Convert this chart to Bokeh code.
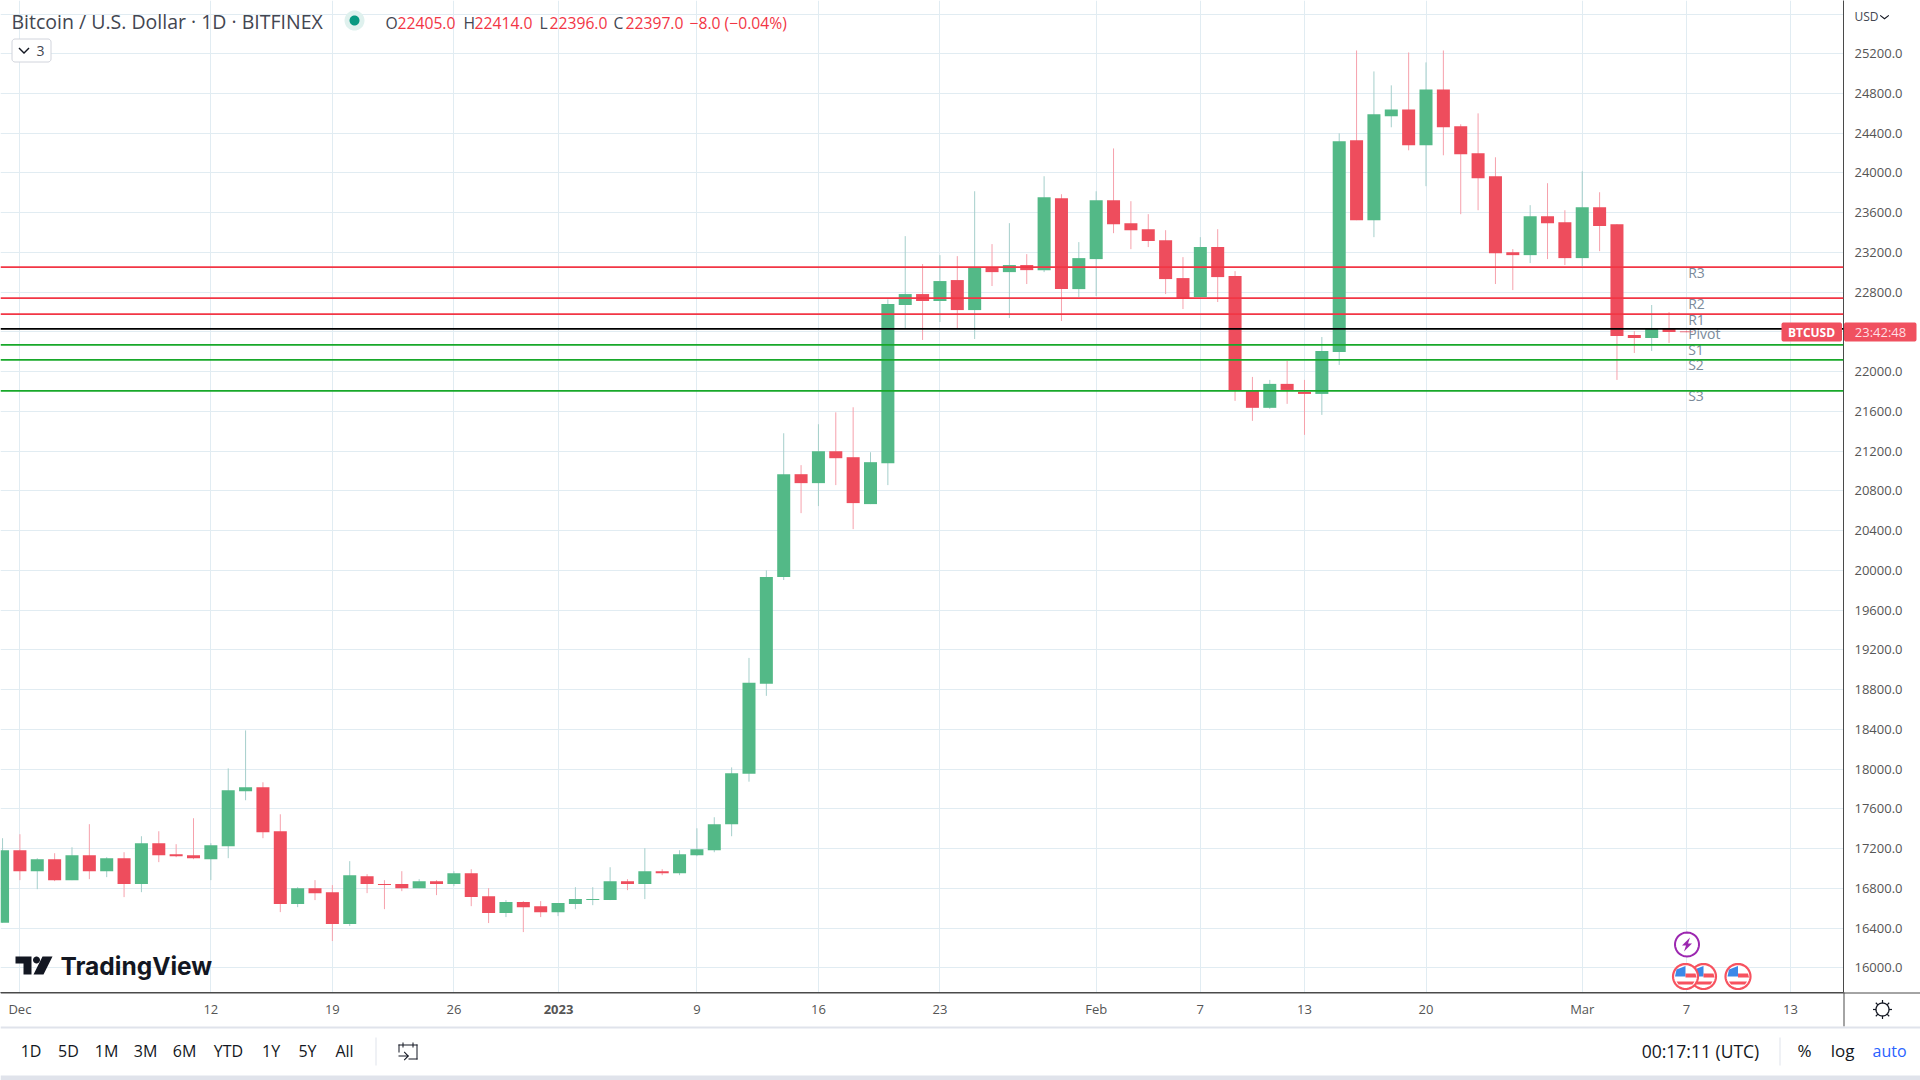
import numpy as np
from bokeh.plotting import figure
from bokeh.embed import file_html
from bokeh.resources import INLINE
from bokeh.layouts import column
from bokeh.models import Range1d, FixedTicker, Span, ColumnDataSource
from bokeh.core.properties import value

# ---------- data ----------
first_day = -1   # day index of first candle, 0 = 1 Dec 2022
opens = [16453,17183,16972,17093,16882,17133,16972,17103,16842,17254,17143,17133,17093,17223,17776,17816,
         17374,16641,16801,16761,16440,16922,16842,16842,16801,16872,16842,16952,16721,16550,16661,16620,
         16560,16641,16681,16681,16872,16842,16972,16952,17133,17183,17445,17953,18858,19933,20968,20878,
         21199,21139,20667,21079,22671,22781,22711,22922,22620,23053,23002,23073,23022,23746,22831,23133,
         23726,23495,23434,23324,22942,22751,23254,22962,21806,21636,21877,21796,21776,22198,24329,23525,
         24570,24640,24279,24841,24470,24198,23967,23203,23173,23565,23505,23143,23656,23485,22369,22339,
         22430,22405]
highs = [17304,17344,17103,17153,17213,17445,17113,17163,17324,17374,17244,17505,17254,18007,18389,17867,
         17545,16811,16882,16832,17073,16942,16882,16972,16892,16882,16972,16992,16801,16681,16671,16671,
         16651,16811,16811,17012,16892,17203,16992,17183,17404,17515,18017,19119,20000,21380,21059,21471,
         21591,21642,21189,22728,23364,23083,23173,23163,23816,23284,23495,23183,23967,23786,23304,23816,
         24247,23716,23585,23424,23153,23354,23434,23012,21947,21917,22108,21917,22349,24399,25233,25022,
         24882,25213,25113,25233,24490,24600,24158,23234,23676,23897,23625,24017,23806,23485,22409,22671,
         22600,22414]
lows = [16453,16882,16791,16872,16882,16892,16912,16711,16761,17063,17113,17093,16882,17103,17686,17304,
        16560,16610,16681,16269,16420,16751,16590,16771,16801,16731,16821,16620,16450,16510,16359,16510,
        16520,16590,16630,16681,16781,16691,16932,16932,17123,17163,17324,17873,18737,19903,20576,20647,
        20858,20415,20667,20858,22436,22319,22500,22430,22329,22862,22540,22882,23002,22510,22751,22761,
        23394,23233,23254,22781,22630,22751,22701,21706,21505,21626,21676,21364,21565,22068,23525,23354,
        24460,24228,23867,24178,23585,23625,22882,22821,23093,23133,23073,23063,23213,21917,22188,22208,
        22289,22396]
closes = [17183,16972,17093,16882,17133,16972,17103,16842,17254,17133,17123,17103,17234,17786,17816,17364,
          16641,16801,16751,16440,16932,16842,16832,16801,16872,16842,16952,16711,16550,16661,16610,16560,
          16651,16691,16691,16872,16842,16972,16952,17143,17193,17445,17957,18868,19933,20968,20878,21199,
          21129,20677,21089,22681,22781,22711,22912,22620,23053,23002,23073,23022,23756,22831,23143,23726,
          23485,23424,23314,22932,22741,23254,22952,21816,21636,21877,21816,21776,22208,24319,23525,24590,
          24640,24279,24841,24460,24188,23947,23193,23173,23565,23495,23143,23656,23465,22359,22339,22430,
          22399,22397]

level_names = ["R3", "R2", "R1", "Pivot", "S1", "S2", "S3"]
level_prices = [23053, 22741, 22580, 22430, 22269, 22118, 21806]
level_colors = ["#f23645", "#f23645", "#f23645", "#000000", "#18a82a", "#18a82a", "#18a82a"]

price_ticks = [16000,16400,16800,17200,17600,18000,18400,18800,19200,19600,20000,20400,20800,21200,21600,
               22000,22400,22800,23200,23600,24000,24400,24800,25200]
grid_price_ticks = price_ticks + [25600]
date_ticks = [0, 11, 18, 25, 31, 39, 46, 53, 62, 68, 74, 81, 90, 96, 102]
date_labels = ["Dec", "12", "19", "26", "", "9", "16", "23", "Feb", "7", "13", "20", "Mar", "7", "13"]

FONT = "Open Sans"
W, H = 1920, 1080
PANE_W, PANE_H = 1843, 992

# ---------- figure ----------
p = figure(width=W, height=H, output_backend="svg", toolbar_location=None,
           x_range=Range1d(-1.118, 105.05), y_range=Range1d(15751, 25736),
           min_border_left=0, min_border_top=0, min_border_right=W - PANE_W, min_border_bottom=H - PANE_H,
           x_axis_location="below", y_axis_location="right", background_fill_color="#ffffff",
           border_fill_color="#ffffff", outline_line_color=None)
p.frame_align = False

for g, ticks in ((p.xgrid[0], date_ticks), (p.ygrid[0], grid_price_ticks)):
    g.ticker = FixedTicker(ticks=ticks)
    g.grid_line_color = "#e1ecf2"
    g.grid_line_width = 1

xa, ya = p.xaxis[0], p.yaxis[0]
xa.ticker = FixedTicker(ticks=date_ticks)
xa.major_label_overrides = dict(zip(date_ticks, date_labels))
ya.ticker = FixedTicker(ticks=price_ticks)
ya.major_label_overrides = {t: f"{t:.1f}" for t in price_ticks}
for ax in (xa, ya):
    ax.major_tick_line_color = None
    ax.minor_tick_line_color = None
    ax.major_tick_out = 0
    ax.major_tick_in = 0
    ax.axis_line_color = "#4a4a4a"
    ax.axis_line_width = 1
    ax.major_label_text_color = "#555555"
    ax.major_label_text_font = FONT
    ax.major_label_text_font_size = "13px"
xa.major_label_standoff = 7
ya.major_label_standoff = 11

# ---------- candles ----------
days = [first_day + i for i in range(len(opens))]
up = [c >= o for o, c in zip(opens, closes)]
src = ColumnDataSource(dict(
    x=days, o=opens, h=highs, l=lows, c=closes,
    top=[max(a, b) for a, b in zip(opens, closes)],
    bot=[min(a, b) for a, b in zip(opens, closes)],
    body=["#53b987" if u else "#ee4d5d" for u in up],
    wick=["#a5cfcb" if u else "#f6a1ac" for u in up],
))
p.segment("x", "h", "x", "l", source=src, line_color="wick", line_width=1)
p.vbar(x="x", top="top", bottom="bot", width=0.75, source=src, fill_color="body", line_color=None)

# ---------- pivot levels ----------
for lv, col in zip(level_prices, level_colors):
    p.add_layout(Span(location=lv, dimension="width", line_color=col, line_width=1.8))
p.text(x=[96.1] * len(level_names), y=level_prices, text=level_names, text_color="#7b8a9a",
       text_font=value(FONT), text_font_size="14px", text_baseline="middle", text_align="left",
       y_offset=5, level="annotation")

# ---------- transparent sheet over the page for furniture, in page pixels ----------
o = figure(width=W, height=H, output_backend="svg", toolbar_location=None,
           x_range=Range1d(0, W), y_range=Range1d(H, 0), x_axis_type=None, y_axis_type=None,
           min_border=0, background_fill_color=None, border_fill_color=None, outline_line_color=None)
o.grid.visible = False
o.margin = (-H, 0, 0, 0)
o.frame_align = False


def poly(xs, ys, fill=None, line=None, lw=1.0):
    o.patch(list(xs), list(ys), fill_color=fill, line_color=line, line_width=lw)


def rect(x0, y0, x1, y1, fill):
    poly([x0, x1, x1, x0], [y0, y0, y1, y1], fill=fill)


def circle(cx, cy, r, fill=None, line=None, lw=1.0):
    t = np.linspace(0, 2 * np.pi, 40, endpoint=False)
    poly(cx + r * np.cos(t), cy + r * np.sin(t), fill=fill, line=line, lw=lw)


def rrect(x0, y0, x1, y1, r, fill=None, line=None, lw=1.0):
    xs, ys = [], []
    for cx, cy, a0 in [(x1 - r, y0 + r, -90), (x1 - r, y1 - r, 0), (x0 + r, y1 - r, 90), (x0 + r, y0 + r, 180)]:
        t = np.radians(np.linspace(a0, a0 + 90, 6))
        xs += list(cx + r * np.cos(t))
        ys += list(cy + r * np.sin(t))
    poly(xs, ys, fill=fill, line=line, lw=lw)


def text(x, y, s, color="#131722", size=15, align="left", style="normal", font=FONT):
    o.text(x=[x], y=[y], text=[s], text_color=color, text_font=value(font), text_font_size=f"{size}px",
           text_align=align, text_baseline="middle", text_font_style=style)


# bold year on the time axis
text(558, 1009, "2023", color="#555555", size=13, align="center", style="bold")

# separators
rect(0, 992, W, 993, "#4a4a4a")
rect(PANE_W, 992, PANE_W + 1, 1026, "#4a4a4a")
rect(0, 1026, W, 1028, "#e0e3eb")
rect(0, 1075, W, 1080, "#e0e3eb")

# header
text(11, 21, "Bitcoin / U.S. Dollar · 1D · BITFINEX", color="#434651", size=19.5)
circle(354, 20, 10, fill="#dff1ee")
circle(354, 20, 5, fill="#089981")
RED = "#f23645"
GREY = "#434651"
for x, s, c in [(385, "O", GREY), (397, "22405.0", RED), (463, "H", GREY), (474, "22414.0", RED),
                (539, "L", GREY), (549, "22396.0", RED), (613, "C", GREY), (625, "22397.0", RED),
                (689, "−8.0 (−0.04%)", RED)]:
    text(x, 22, s, color=c, size=15.7)
rrect(11.5, 38.5, 50.5, 61.5, 3, fill="#ffffff", line="#d1d4dc")
poly([19, 23.5, 28, 29, 23.5, 18], [47, 51.5, 47, 48, 53.5, 48], fill="#131722")
text(36, 50, "3", color="#434651", size=14)

# USD selector
text(1854, 16, "USD", color="#434651", size=12)
poly([1880, 1884, 1888, 1888.7, 1884, 1879.3], [14.5, 17.5, 14.5, 15.2, 19, 15.2], fill="#131722")

# price badges
rrect(1781, 322, 1841.5, 341, 2, fill="#f0505f")
rrect(1843.5, 322, 1916, 341, 2, fill="#f0505f")
text(1811, 331.5, "BTCUSD", color="#ffffff", size=12, align="center", style="bold")
text(1880, 331.5, "23:42:48", color="#ffdfe3", size=13, align="center")

# TradingView logo
DARK = "#131722"
poly([15, 31, 31, 23, 23, 15], [956, 956, 974, 974, 963, 963], fill=DARK)
circle(36, 959.5, 3.5, fill=DARK)
poly([42, 52, 43, 33], [956, 956, 974, 974], fill=DARK)
text(60, 965.5, "TradingView", color=DARK, size=24.5, font="Inter", style="bold")

# event markers
flash_x, flash_y = 1686.5, 944
circle(flash_x, flash_y, 12, fill="#ffffff", line="#9c27b0", lw=2)
poly(flash_x + np.array([3, -5, -1, -3, 5, 1]), flash_y + np.array([-7, 1, 1, 7, -1, -1]), fill="#9c27b0")


def flag(cx, cy):
    circle(cx, cy, 12.5, fill="#ffffff", line="#f7525f", lw=2.2)
    poly(cx + np.array([-9, 0, 0, -10.5]), cy + np.array([-7, -10.5, 0, 0]), fill="#3c88e8")
    poly(cx + np.array([0, 10, 11, 0]), cy + np.array([-3, -3, 1, 1]), fill="#f7525f")
    poly(cx + np.array([-9, 9, 7, -7]), cy + np.array([5, 5, 8, 8]), fill="#f7525f")


flag(1703, 976)
flag(1685, 976)
flag(1737.5, 976)

# gear
gx, gy = 1882, 1009
circle(gx, gy, 6.5, line="#131722", lw=1.3)
for a in np.arange(0, 2 * np.pi, np.pi / 4):
    c, s = np.cos(a), np.sin(a)
    poly([gx + 6.5 * c - .6 * s, gx + 9.5 * c - .6 * s, gx + 9.5 * c + .6 * s, gx + 6.5 * c + .6 * s],
         [gy + 6.5 * s + .6 * c, gy + 9.5 * s + .6 * c, gy + 9.5 * s - .6 * c, gy + 6.5 * s - .6 * c], fill="#131722")

# bottom bar
for x, s in [(30.6, "1D"), (68, "5D"), (106, "1M"), (145, "3M"), (184, "6M"), (228, "YTD"), (270.6, "1Y"),
             (307, "5Y"), (344, "All")]:
    text(x, 1050, s, color="#131722", size=16, align="center")
rect(375, 1037, 376, 1065, "#e0e3eb")
# calendar icon
rect(398, 1044, 417, 1045, DARK)
rect(416, 1044, 417, 1059, DARK)
rect(408, 1058, 417, 1059, DARK)
rect(398, 1044, 399, 1052, DARK)
rect(402, 1042, 403, 1047, DARK)
rect(412, 1042, 413, 1047, DARK)
rect(398, 1055, 408, 1056, DARK)
poly([404, 408.5, 404, 403.3, 406.8, 403.3], [1051, 1055.5, 1060, 1059.3, 1055.5, 1051.7], fill=DARK)

text(1700, 1050, "00:17:11 (UTC)", color=DARK, size=17.5, align="center")
rect(1779, 1037, 1780, 1065, "#e0e3eb")
text(1804, 1050, "%", color=DARK, size=17, align="center")
text(1842, 1050, "log", color=DARK, size=17, align="center")
text(1889, 1050, "auto", color="#2962ff", size=16, align="center")

layout = column(p, o, spacing=0)
open("out.html", "w").write(file_html(layout, INLINE))
